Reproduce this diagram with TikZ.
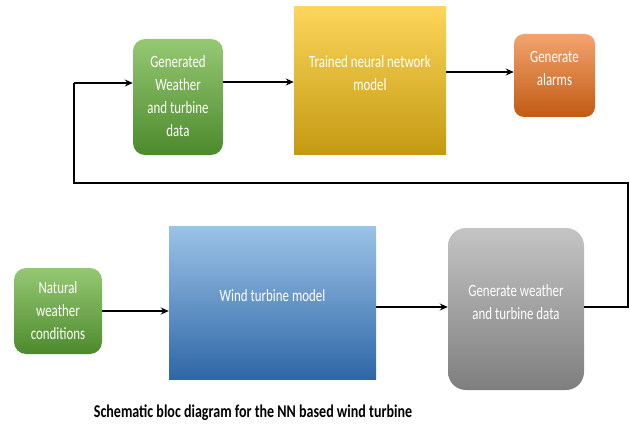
\documentclass[tikz,border=0pt]{standalone}
\usepackage{fontspec}
\setmainfont{Carlito}
\usetikzlibrary{arrows.meta}
\newcommand{\sqz}[1]{\scalebox{0.75}[1]{\begin{tabular}{@{}c@{}}#1\end{tabular}}}
\definecolor{gbtop}{HTML}{96C873}
\definecolor{gbmid}{HTML}{6CAA44}
\definecolor{gbbot}{HTML}{4C8A2C}
\definecolor{ytop}{HTML}{FCD55A}
\definecolor{ymid}{HTML}{FDC010}
\definecolor{ybot}{HTML}{C49A12}
\definecolor{otop}{HTML}{F2A46E}
\definecolor{omid}{HTML}{EC7D32}
\definecolor{obot}{HTML}{C25A14}
\definecolor{btop}{HTML}{9CC3E8}
\definecolor{bmid}{HTML}{5B97D2}
\definecolor{bbot}{HTML}{2E67A6}
\definecolor{grtop}{HTML}{C4C4C4}
\definecolor{grmid}{HTML}{A3A3A3}
\definecolor{grbot}{HTML}{7E7E7E}
\tikzset{
  box/.style={inner sep=0pt},
  greenbox/.style={box, rounded corners=12pt, top color=gbtop, middle color=gbmid, bottom color=gbbot},
  yellowbox/.style={box, top color=ytop, middle color=ymid, bottom color=ybot},
  orangebox/.style={box, rounded corners=10pt, top color=otop, middle color=omid, bottom color=obot},
  bluebox/.style={box, top color=btop, middle color=bmid, bottom color=bbot},
  graybox/.style={box, rounded corners=18pt, top color=grtop, middle color=grmid, bottom color=grbot},
  lbl/.style={text=white, font=\fontsize{17.2}{23}\selectfont, inner sep=0pt},
  conn/.style={line width=2.2pt, -{Stealth[length=8pt,width=7pt]}},
  feed/.style={line width=1.8pt},
}
\begin{document}
\begin{tikzpicture}[x=1pt,y=-1pt]
\useasboundingbox (0,0) rectangle (630,428);
% boxes
\node[greenbox, minimum width=90pt, minimum height=116pt] (gen) at (178,97) {};
\node[yellowbox, minimum width=152pt, minimum height=147pt] (nn) at (370,80.5) {};
\node[orangebox, minimum width=81pt, minimum height=83pt] (alarm) at (554.5,75.5) {};
\node[greenbox, minimum width=88pt, minimum height=86pt] (nat) at (58,311) {};
\node[bluebox, minimum width=207pt, minimum height=153pt] (wt) at (272.5,302.5) {};
\node[graybox, minimum width=136pt, minimum height=162pt] (gw) at (516,309) {};
% texts
\node[lbl] (tgen) at (178,97) {\sqz{Generated\\Weather\\and turbine\\data}};
\node[lbl] (tnn) at (370,74) {\sqz{Trained neural network\\model}};
\node[lbl] (talarm) at (554.5,69) {\sqz{Generate\\alarms}};
\node[lbl] (tnat) at (58,312) {\sqz{Natural\\weather\\conditions}};
\node[lbl] (twt) at (272.5,297) {\sqz{Wind turbine model}};
\node[lbl] (tgw) at (516,303) {\sqz{Generate weather\\and turbine data}};
% caption
\node[inner sep=0pt, font=\fontsize{18}{20}\selectfont\bfseries] (cap) at (253,413) {\scalebox{0.78}[1]{Schematic bloc diagram for the NN based wind turbine}};
% connectors
\coordinate (c1) at (628,307);
\coordinate (c2) at (628,183);
\coordinate (c3) at (74,183);
\coordinate (c4) at (74,83);
\draw[conn] (gen.east |- 0,82) -- (nn.west |- 0,82);
\draw[conn] (nn.east |- 0,72) -- (alarm.west |- 0,72);
\draw[conn] (nat.east |- 0,311) -- (wt.west |- 0,311);
\draw[conn] (wt.east |- 0,307) -- (gw.west |- 0,307);
\draw[feed] (gw.east |- c1) -- (c1) -- (c2) -- (c3) -- (c4);
\draw[conn, line width=1.8pt] (c4) -- (gen.west |- c4);
\end{tikzpicture}
\end{document}
